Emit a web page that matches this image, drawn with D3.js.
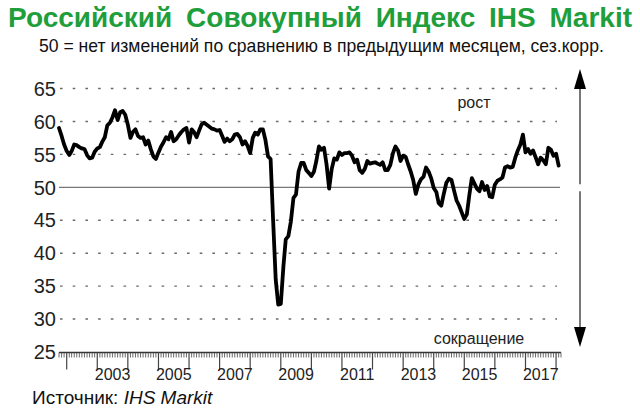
<!DOCTYPE html>
<html>
<head>
<meta charset="utf-8">
<script src="https://cdn.jsdelivr.net/npm/d3@7/dist/d3.min.js"></script>
<style>
  html, body { margin: 0; padding: 0; background: #fff; }
  svg { display: block; font-family: "Liberation Sans", Arial, sans-serif; }
</style>
</head>
<body>
<svg id="chart" width="640" height="413"></svg>
<script>
// ---- data ----
const titleText = "Российский Совокупный Индекс IHS Markit";
const subtitleText = "50 = нет изменений по сравнению в предыдущим месяцем, сез.корр.";
const sourceLabel = "Источник: ";
const sourceName = "IHS Markit";
const upLabel = "рост";
const downLabel = "сокращение";
const startMonth = [2001, 9]; // October 2001 (month index 0-based)
const yTicks = [25, 30, 35, 40, 45, 50, 55, 60, 65];
const yearLabels = [2003, 2005, 2007, 2009, 2011, 2013, 2015, 2017];
const values2001 = [59.0, 57.8, 56.5];
const values2002 = [55.5, 54.9, 55.5, 56.5, 56.4, 56.1, 55.9, 55.8, 54.9, 54.4, 54.5, 55.4];
const values2003 = [55.9, 56.1, 56.9, 57.6, 59.4, 59.8, 60.6, 61.7, 60.2, 61.4, 61.6, 61.0];
const values2004 = [59.5, 57.5, 58.4, 58.8, 57.8, 57.5, 57.6, 56.5, 57.1, 55.8, 54.7, 54.3];
const values2005 = [55.3, 56.2, 56.8, 57.6, 57.3, 58.4, 57.0, 57.3, 57.9, 58.4, 58.8, 59.0];
const values2006 = [56.8, 58.8, 58.4, 57.6, 58.6, 59.6, 59.8, 59.5, 59.2, 58.9, 58.8, 58.6];
const values2007 = [58.7, 57.8, 56.9, 57.4, 57.0, 57.3, 58.0, 58.1, 57.6, 56.5, 57.0, 56.3];
const values2008 = [55.2, 57.5, 58.3, 58.0, 58.8, 58.8, 57.2, 54.7, 54.3, 45.0, 36.0, 32.2];
const values2009 = [32.3, 38.0, 42.1, 42.6, 44.8, 48.4, 48.9, 52.4, 53.7, 53.7, 52.6, 52.2];
const values2010 = [51.7, 52.4, 54.0, 56.2, 55.7, 56.0, 53.5, 49.8, 52.8, 54.4, 54.2, 55.3];
const values2011 = [54.9, 55.2, 55.2, 55.3, 54.8, 53.8, 54.2, 52.6, 52.2, 52.8, 54.0, 53.6];
const values2012 = [53.7, 53.8, 53.6, 53.4, 53.8, 52.6, 52.6, 53.4, 55.2, 56.2, 55.6, 54.0];
const values2013 = [54.8, 54.6, 53.5, 52.4, 51.1, 49.0, 50.4, 51.2, 51.6, 53.0, 52.4, 51.4];
const values2014 = [49.9, 49.3, 47.6, 47.2, 49.0, 50.7, 51.3, 51.1, 49.5, 48.0, 47.2, 46.2];
const values2015 = [45.2, 45.9, 48.7, 51.4, 50.6, 49.8, 49.4, 50.8, 49.6, 50.2, 48.6, 48.5];
const values2016 = [50.4, 51.0, 51.2, 51.5, 53.0, 53.2, 53.0, 53.1, 54.5, 55.6, 56.5, 58.0];
const values2017 = [55.3, 55.8, 55.1, 55.6, 54.6, 53.5, 54.5, 54.1, 53.5, 56.0, 55.7, 54.8];
const values2018 = [55.1, 53.3];

const allValues = [].concat(values2001, values2002, values2003, values2004, values2005,
  values2006, values2007, values2008, values2009, values2010, values2011, values2012,
  values2013, values2014, values2015, values2016, values2017, values2018);
const series = allValues.map((v, i) => ({ date: new Date(startMonth[0], startMonth[1] + i, 1), value: v }));

// ---- layout ----
const svg = d3.select("#chart");
const green = "#1f9e3c";

const x = d3.scaleTime()
  .domain([new Date(2001, 9, 1), new Date(2018, 2, 1)])
  .range([59, 561]);
const y = d3.scaleLinear().domain([25, 65]).range([352, 88.5]);

// title
const title = svg.append("text")
  .attr("x", 8).attr("y", 27)
  .attr("fill", green)
  .attr("font-weight", "bold")
  .attr("font-size", 28)
  .style("white-space", "pre")
  .text(titleText);
{
  const w = title.node().getComputedTextLength();
  const gaps = titleText.split(" ").length - 1;
  const target = 624;
  title.attr("word-spacing", Math.max(0, (target - w) / gaps));
}

// subtitle
const sub = svg.append("text")
  .attr("x", 39).attr("y", 52)
  .attr("font-size", 15)
  .attr("fill", "#111")
  .text(subtitleText);
{
  const w = sub.node().getComputedTextLength();
  sub.attr("font-size", 15 * 565 / w);
}

// grid lines
const gridTicks = yTicks.filter(t => t !== 25 && t !== 50);
svg.append("g").selectAll("line").data(gridTicks).join("line")
  .attr("x1", 60).attr("x2", 557)
  .attr("y1", d => y(d)).attr("y2", d => y(d))
  .attr("stroke", "#6a6a6a")
  .attr("stroke-width", 1.4)
  .attr("stroke-dasharray", "2.6,10.1");

// 50 line
svg.append("line")
  .attr("x1", 59).attr("x2", 560)
  .attr("y1", y(50)).attr("y2", y(50))
  .attr("stroke", "#777").attr("stroke-width", 1.3);

// y labels
svg.append("g").selectAll("text").data(yTicks).join("text")
  .attr("x", 56).attr("y", d => y(d))
  .attr("dy", "0.36em")
  .attr("text-anchor", "end")
  .attr("font-size", 20)
  .attr("fill", "#222")
  .text(d => d);

// x axis
const xAxisY = y(25) + 0.5;
svg.append("line")
  .attr("x1", 59).attr("x2", 561)
  .attr("y1", xAxisY).attr("y2", xAxisY)
  .attr("stroke", "#333").attr("stroke-width", 1.4);
const months = d3.timeMonth.range(new Date(2001, 9, 1), new Date(2018, 2, 2));
svg.append("g").selectAll("line").data(months).join("line")
  .attr("x1", d => x(d)).attr("x2", d => x(d))
  .attr("y1", xAxisY)
  .attr("y2", d => d.getMonth() === 0 ? xAxisY + 17 : xAxisY + 5)
  .attr("stroke", "#444")
  .attr("stroke-width", d => d.getMonth() === 0 ? 1.2 : 0.8);
svg.append("g").selectAll("text").data(yearLabels).join("text")
  .attr("x", d => (x(new Date(d, 0, 1)) + x(new Date(d + 1, 0, 1))) / 2)
  .attr("y", 380)
  .attr("text-anchor", "middle")
  .attr("font-size", 16)
  .attr("fill", "#222")
  .text(d => d);

// data line
svg.append("path")
  .datum(series)
  .attr("fill", "none")
  .attr("stroke", "#000")
  .attr("stroke-width", 3.8)
  .attr("stroke-linejoin", "round")
  .attr("stroke-linecap", "round")
  .attr("d", d3.line().x(d => x(d.date)).y(d => y(d.value)));

// growth / contraction arrow
const ax = 580;
svg.append("line").attr("x1", ax).attr("x2", ax)
  .attr("y1", 86).attr("y2", y(50) - 3)
  .attr("stroke", "#555").attr("stroke-width", 1.6);
svg.append("line").attr("x1", ax).attr("x2", ax)
  .attr("y1", y(50) + 4).attr("y2", 330)
  .attr("stroke", "#555").attr("stroke-width", 1.6);
svg.append("path")
  .attr("d", `M${ax},69 L${ax - 6},89 L${ax + 6},89 Z`)
  .attr("fill", "#000");
svg.append("path")
  .attr("d", `M${ax},347 L${ax - 6},327 L${ax + 6},327 Z`)
  .attr("fill", "#000");

svg.append("text")
  .attr("x", 474).attr("y", 108)
  .attr("text-anchor", "middle")
  .attr("font-size", 16)
  .attr("fill", "#222")
  .text(upLabel);
svg.append("text")
  .attr("x", 479).attr("y", 344)
  .attr("text-anchor", "middle")
  .attr("font-size", 16)
  .attr("fill", "#222")
  .text(downLabel);

// source
const src = svg.append("text")
  .attr("x", 32).attr("y", 404)
  .attr("font-size", 19)
  .attr("fill", "#111");
src.append("tspan").text(sourceLabel);
src.append("tspan").attr("font-style", "italic").text(sourceName);
</script>
</body>
</html>
